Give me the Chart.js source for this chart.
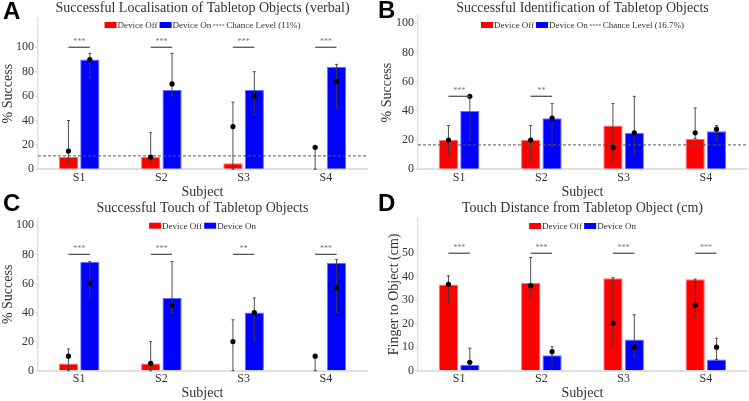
<!DOCTYPE html>
<html>
<head>
<meta charset="utf-8">
<script src="https://cdn.jsdelivr.net/npm/chart.js@4.4.0/dist/chart.umd.min.js"></script>
<style>
  body { margin: 0; background: #fff; }
  #wrap { position: relative; width: 749px; height: 401px; overflow: hidden; }
  .panel { position: absolute; }
  .tag { position: absolute; font: bold 24px "Liberation Sans", Arial, sans-serif; line-height: 24px; color: #000; }
</style>
</head>
<body>
<div id="wrap">
  <div class="panel" style="left:0;top:0"><canvas id="chartA" width="375" height="200"></canvas></div>
  <div class="panel" style="left:375px;top:0"><canvas id="chartB" width="374" height="200"></canvas></div>
  <div class="panel" style="left:0;top:200px"><canvas id="chartC" width="375" height="201"></canvas></div>
  <div class="panel" style="left:375px;top:200px"><canvas id="chartD" width="374" height="201"></canvas></div>
  <div class="tag" style="left:3px;top:-1px">A</div>
  <div class="tag" style="left:378px;top:-2px">B</div>
  <div class="tag" style="left:3px;top:191px">C</div>
  <div class="tag" style="left:378px;top:191px">D</div>
</div>
<script>
const subjects = ["S1", "S2", "S3", "S4"];

// A - localisation (verbal)
const locOff = [10, 10, 5, 0];
const locOn = [90, 65, 65, 84];
const locOffDot = [15, 10, 35, 18];
const locOnDot = [90, 70, 60, 72];
const locOffErr = [[5, 40], [5, 30], [0, 55], [0, 18]];
const locOnErr = [[75, 95], [60, 95], [45, 80], [50, 86]];
const locStars = ["***", "***", "***", "***"];
const locChance = 11;

// B - identification
const idOff = [20, 20, 30, 21];
const idOn = [40, 35, 25, 26];
const idOffDot = [20, 20, 15, 25];
const idOnDot = [50, 35, 25, 27.5];
const idOffErr = [[10, 30], [5, 30], [5, 45], [21, 42]];
const idOnErr = [[20, 50], [15, 45], [10, 50], [20, 30]];
const idStars = ["***", "**", "", ""];
const idChance = 16.7;

// C - touch
const touchOff = [5, 5, 0, 0];
const touchOn = [75, 50, 40, 74];
const touchOffDot = [10, 5, 20, 10];
const touchOnDot = [60, 45, 40, 57];
const touchOffErr = [[0, 15], [0, 20], [0, 35], [0, 10]];
const touchOnErr = [[50, 75], [40, 75], [21, 50], [40, 76.5]];
const touchStars = ["***", "***", "**", "***"];

// D - touch distance (cm)
const distOff = [36.7, 37.3, 39.4, 38.9];
const distOn = [2.5, 6.6, 13.3, 4.8];
const distOffDot = [36.8, 36.2, 20.2, 27.9];
const distOnDot = [3.6, 8.1, 10, 10];
const distOffErr = [[29, 40.4], [31.1, 48.2], [10.9, 39.6], [23, 39]];
const distOnErr = [[0.6, 9.6], [1.7, 10.2], [5.9, 23.8], [4.8, 13.8]];
const distStars = ["***", "***", "***", "***"];

const serif = '"Liberation Serif", "Times New Roman", serif';
const RED = "#ff0000", BLUE = "#0000ff";

const extras = {
  id: "extras",
  afterDatasetsDraw(chart, args, o) {
    const ctx = chart.ctx, ya = chart.scales.y, area = chart.chartArea;
    const m0 = chart.getDatasetMeta(0), m1 = chart.getDatasetMeta(1);
    ctx.save();
    // chance level
    if (o.chance != null) {
      const y = ya.getPixelForValue(o.chance);
      ctx.strokeStyle = "#555"; ctx.lineWidth = 1; ctx.setLineDash([3, 2]);
      ctx.beginPath(); ctx.moveTo(area.left, y); ctx.lineTo(area.right, y); ctx.stroke();
      ctx.setLineDash([]);
    }
    // error bars + dots
    [[m0, o.offErr, o.offDot], [m1, o.onErr, o.onDot]].forEach(([meta, err, dot]) => {
      meta.data.forEach((bar, i) => {
        const x = bar.x;
        const y1 = ya.getPixelForValue(err[i][0]), y2 = ya.getPixelForValue(err[i][1]);
        ctx.strokeStyle = "#3a3a3a"; ctx.lineWidth = 0.9;
        ctx.beginPath();
        ctx.moveTo(x, y1); ctx.lineTo(x, y2);
        ctx.moveTo(x - 1.5, y1); ctx.lineTo(x + 1.5, y1);
        ctx.moveTo(x - 1.5, y2); ctx.lineTo(x + 1.5, y2);
        ctx.stroke();
        ctx.fillStyle = "#000";
        ctx.beginPath(); ctx.arc(x, ya.getPixelForValue(dot[i]), 2.6, 0, Math.PI * 2); ctx.fill();
      });
    });
    // significance
    o.stars.forEach((s, i) => {
      if (!s) return;
      const x1 = m0.data[i].x, x2 = m1.data[i].x, y = ya.getPixelForValue(o.sigAt);
      ctx.strokeStyle = "#555"; ctx.lineWidth = 1.3;
      ctx.beginPath(); ctx.moveTo(x1, y); ctx.lineTo(x2, y); ctx.stroke();
      ctx.fillStyle = "#777"; ctx.font = "8px " + serif;
      ctx.textAlign = "center"; ctx.textBaseline = "middle";
      ctx.fillText(s, (x1 + x2) / 2, y - 5.5);
    });
    // legend
    ctx.font = "9px " + serif; ctx.textBaseline = "middle"; ctx.textAlign = "left";
    const items = [{ c: RED, t: "Device Off" }, { c: BLUE, t: "Device On" }];
    if (o.chanceLabel) items.push({ dash: true, t: o.chanceLabel });
    let total = 0;
    items.forEach(it => { it.w = 12 + 1 + ctx.measureText(it.t).width; total += it.w; });
    total += 2 * (items.length - 1);
    let x = (area.left + area.right) / 2 - total / 2;
    const ly = o.legendY;
    items.forEach(it => {
      if (it.dash) {
        ctx.strokeStyle = "#444"; ctx.lineWidth = 1; ctx.setLineDash([2, 1]);
        ctx.beginPath(); ctx.moveTo(x, ly); ctx.lineTo(x + 12, ly); ctx.stroke();
        ctx.setLineDash([]);
      } else {
        ctx.fillStyle = it.c; ctx.fillRect(x, ly - 3, 12, 6);
      }
      ctx.fillStyle = "#333";
      ctx.fillText(it.t, x + 13, ly + 0.5);
      x += it.w + 2;
    });
    ctx.restore();
  }
};

function makePanel(id, p) {
  return new Chart(document.getElementById(id), {
    type: "bar",
    data: {
      labels: subjects,
      datasets: [
        { label: "Device Off", data: p.off, backgroundColor: RED, borderColor: "#ff7070",
          borderWidth: c => (c.raw > 0 ? 1 : 0), barPercentage: 0.9, categoryPercentage: 0.52 },
        { label: "Device On", data: p.on, backgroundColor: BLUE, borderColor: "#7070ff",
          borderWidth: c => (c.raw > 0 ? 1 : 0), barPercentage: 0.9, categoryPercentage: 0.52 }
      ]
    },
    options: {
      responsive: false,
      animation: false,
      devicePixelRatio: 1,
      layout: { padding: { left: 0, right: p.padRight, top: 0, bottom: 0 } },
      plugins: {
        legend: { display: false },
        tooltip: { enabled: false },
        title: {
          display: true, text: p.title, fullSize: false, color: "#333",
          font: { family: serif, size: 14, weight: "normal", lineHeight: 1 },
          padding: { top: 1, bottom: p.titlePad }
        },
        extras: p.extras
      },
      scales: {
        x: {
          grid: { display: false, drawTicks: false },
          border: { color: "#e0e0e0", width: 2 },
          ticks: { color: "#333", padding: 1, font: { family: serif, size: 12 } },
          title: { display: true, text: "Subject", color: "#333",
            font: { family: serif, size: 14, lineHeight: 1 }, padding: { top: 0, bottom: 1 } },
          afterFit: s => { s.height = p.xHeight; }
        },
        y: {
          min: 0, max: p.max,
          ticks: { color: "#333", padding: 1, font: { family: serif, size: 12 } },
          afterBuildTicks: s => {
            const t = [];
            for (let v = 0; v <= p.topTick; v += p.step) t.push({ value: v });
            s.ticks = t;
          },
          grid: { drawOnChartArea: false, tickLength: 3, color: "#d8d8d8" },
          border: { color: "#e0e0e0", width: 1.5 },
          title: { display: true, text: p.yTitle, color: "#333",
            font: { family: serif, size: 14, lineHeight: 1 }, padding: { top: p.yTitlePad, bottom: 0 } },
          afterFit: s => { s.width = p.yWidth; }
        }
      }
    },
    plugins: [extras]
  });
}

makePanel("chartA", {
  title: "Successful Localisation of Tabletop Objects (verbal)", yTitle: "% Success",
  off: locOff, on: locOn, max: 124, step: 20, topTick: 100,
  padRight: 8, titlePad: 3, xHeight: 30.7, yWidth: 38, yTitlePad: 1,
  extras: { offErr: locOffErr, onErr: locOnErr, offDot: locOffDot, onDot: locOnDot,
    stars: locStars, sigAt: 100, chance: locChance, chanceLabel: "Chance Level (11%)", legendY: 25 }
});
makePanel("chartB", {
  title: "Successful Identification of Tabletop Objects", yTitle: "% Success",
  off: idOff, on: idOn, max: 105, step: 20, topTick: 100,
  padRight: 2, titlePad: 1, xHeight: 30.7, yWidth: 43, yTitlePad: 5,
  extras: { offErr: idOffErr, onErr: idOnErr, offDot: idOffDot, onDot: idOnDot,
    stars: idStars, sigAt: 50, chance: idChance, chanceLabel: "Chance Level (16.7%)", legendY: 25 }
});
makePanel("chartC", {
  title: "Successful Touch of Tabletop Objects", yTitle: "% Success",
  off: touchOff, on: touchOn, max: 105, step: 20, topTick: 100,
  padRight: 8, titlePad: 3, xHeight: 30.3, yWidth: 38, yTitlePad: 1,
  extras: { offErr: touchOffErr, onErr: touchOnErr, offDot: touchOffDot, onDot: touchOnDot,
    stars: touchStars, sigAt: 80, legendY: 25.7 }
});
makePanel("chartD", {
  title: "Touch Distance from Tabletop Object (cm)", yTitle: "Finger to Object (cm)",
  off: distOff, on: distOn, max: 65, step: 10, topTick: 50,
  padRight: 2, titlePad: 3, xHeight: 30.3, yWidth: 43, yTitlePad: 12,
  extras: { offErr: distOffErr, onErr: distOnErr, offDot: distOffDot, onDot: distOnDot,
    stars: distStars, sigAt: 50, legendY: 26 }
});
</script>
</body>
</html>
